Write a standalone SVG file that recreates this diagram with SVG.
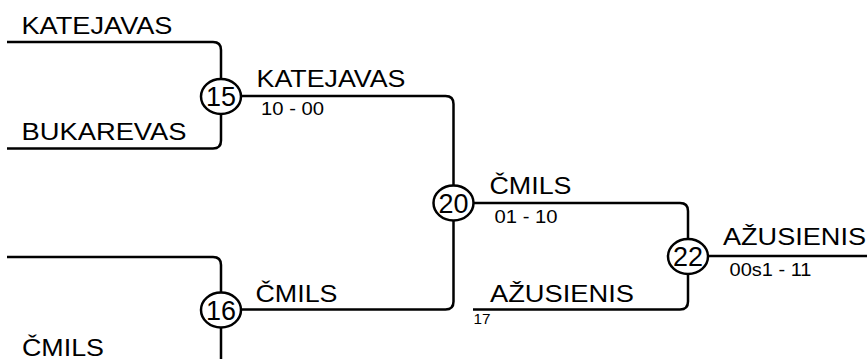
<svg xmlns="http://www.w3.org/2000/svg" width="867" height="359" viewBox="0 0 867 359">
<style>
.c{fill:none;stroke:#000;stroke-width:2.5;stroke-linecap:butt;stroke-linejoin:round}
.n{fill:#fff;stroke:#000;stroke-width:2.5}
.t{font-family:"Liberation Sans",Arial,sans-serif;fill:#000}
.big{font-size:24px}
.sc{font-size:18px}
.num{font-size:27px;text-anchor:middle}
</style>
<rect width="867" height="359" fill="#fff"/>
<g id="connectors">
<path class="c" d="M7,42 H213 Q221,42 221,50 V96.5"/>
<path class="c" d="M7,148.5 H213 Q221,148.5 221,140.5 V96.5"/>
<path class="c" d="M221,96 H445.5 Q453.5,96 453.5,104 V203"/>
<path class="c" d="M7,257 H213 Q221,257 221,265 V310"/>
<path class="c" d="M221,310 V362 Q221,370 213,370 H7"/>
<path class="c" d="M221,309.5 H445.5 Q453.5,309.5 453.5,301.5 V203"/>
<path class="c" d="M453.5,203 H680 Q688,203 688,211 V256.5"/>
<path class="c" d="M473,309.5 H680 Q688,309.5 688,301.5 V256.5"/>
<path class="c" d="M688,256 H867"/>
</g>
<g id="labels">
<text class="t big" x="21.5" y="33.5" textLength="151" lengthAdjust="spacingAndGlyphs">KATEJAVAS</text>
<text class="t big" x="21.5" y="140" textLength="165" lengthAdjust="spacingAndGlyphs">BUKAREVAS</text>
<text class="t big" x="256.5" y="86.7" textLength="149" lengthAdjust="spacingAndGlyphs">KATEJAVAS</text>
<text class="t sc" x="261" y="115" textLength="63" lengthAdjust="spacingAndGlyphs">10 - 00</text>
<text class="t big" x="255.5" y="301.7" textLength="82" lengthAdjust="spacingAndGlyphs">ČMILS</text>
<text class="t big" x="22" y="355.7" textLength="82" lengthAdjust="spacingAndGlyphs">ČMILS</text>
<text class="t big" x="489.5" y="194" textLength="82" lengthAdjust="spacingAndGlyphs">ČMILS</text>
<text class="t sc" x="494.5" y="223" textLength="63" lengthAdjust="spacingAndGlyphs">01 - 10</text>
<text class="t big" x="723" y="245" textLength="143" lengthAdjust="spacingAndGlyphs">AŽUSIENIS</text>
<text class="t sc" x="729.5" y="276" textLength="82" lengthAdjust="spacingAndGlyphs">00s1 - 11</text>
<text class="t big" x="490" y="302" textLength="144" lengthAdjust="spacingAndGlyphs">AŽUSIENIS</text>
<text class="t" style="font-size:15px" x="473.5" y="324" textLength="17" lengthAdjust="spacingAndGlyphs">17</text>
</g>
<g id="node-15">
<ellipse class="n" cx="221" cy="96.5" rx="20" ry="17.5"/>
<text class="t num" x="221" y="106" textLength="30" lengthAdjust="spacingAndGlyphs">15</text>
</g>
<g id="node-16">
<ellipse class="n" cx="221" cy="310" rx="20" ry="17.5"/>
<text class="t num" x="221" y="320" textLength="30" lengthAdjust="spacingAndGlyphs">16</text>
</g>
<g id="node-20">
<ellipse class="n" cx="453.5" cy="203" rx="20" ry="17.5"/>
<text class="t num" x="453.5" y="212.5" textLength="30" lengthAdjust="spacingAndGlyphs">20</text>
</g>
<g id="node-22">
<ellipse class="n" cx="688" cy="256.5" rx="20" ry="17.5"/>
<text class="t num" x="688" y="266" textLength="30" lengthAdjust="spacingAndGlyphs">22</text>
</g>
</svg>
